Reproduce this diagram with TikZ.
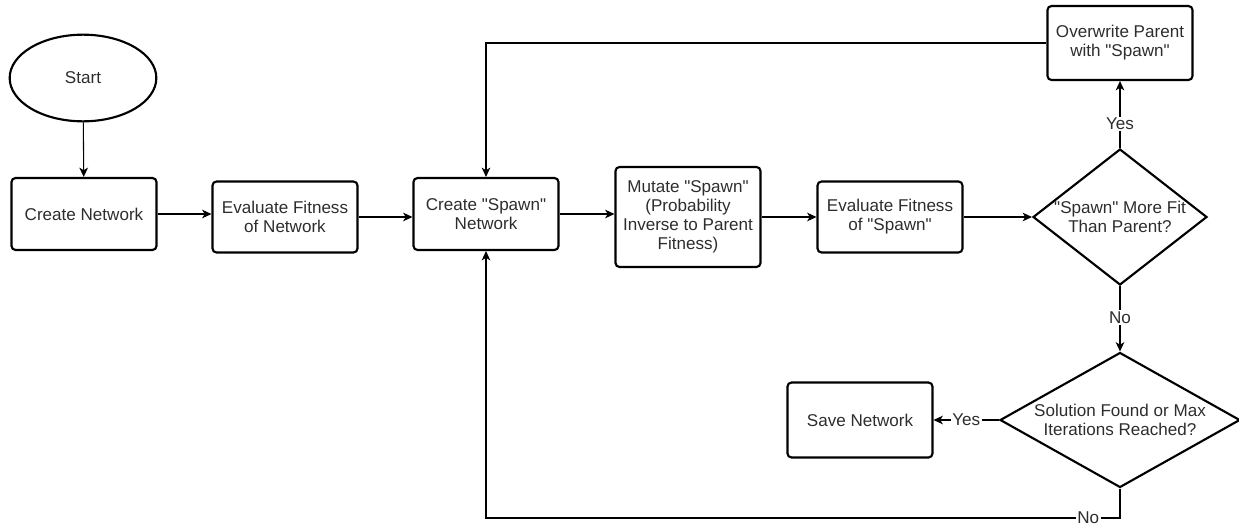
\documentclass[tikz,border=0pt]{standalone}
\usepackage{fontspec}
\setmainfont{Liberation Sans}
\usetikzlibrary{shapes.geometric,arrows.meta}
\definecolor{txt}{RGB}{45,45,45}
% straight double quote (not turned into a curly one)
\newcommand\sq{\textquotedbl}
\begin{document}
\begin{tikzpicture}[x=0.75pt,y=-0.75pt,
  every node/.style={font=\fontsize{12.8}{14.3}\selectfont, text=txt},
  box/.style={draw, line width=1.6pt, rounded corners=3pt, align=center,
    minimum width=108.75pt, minimum height=54pt, inner sep=2pt},
  dec/.style={draw, diamond, line width=1.6pt, inner sep=0pt},
  startnode/.style={draw, ellipse, line width=1.6pt, minimum width=110pt, minimum height=65pt},
  arr/.style={draw, line width=0.8pt, -{Stealth[length=7pt,width=6.5pt,inset=2pt]}},
  lbl/.style={fill=white, inner sep=1pt}
]
\useasboundingbox (0,0) rectangle (1239,525);

% process steps
\node[startnode] (start) at (83,78) {Start};
\node[box] (create) at (84,214) {Create Network};
\node[box, minimum height=53.25pt] (evalnet) at (285,217) {Evaluate Fitness\\of Network};
\node[box] (spawn) at (486,214) {Create \sq Spawn\sq\\Network};
\node[box, minimum height=75pt] (mutate) at (688,217) {Mutate \sq Spawn\sq\\(Probability\\Inverse to Parent\\Fitness)};
\node[box, minimum height=53.25pt] (evalspawn) at (890,217) {Evaluate Fitness\\of \sq Spawn\sq};
\node[box, minimum height=55.5pt] (overwrite) at (1120,43) {Overwrite Parent\\with \sq Spawn\sq};
\node[box, minimum height=56.25pt] (save) at (860,420) {Save Network};

% decisions
\node[dec, minimum width=130.5pt, minimum height=102pt,
  label={[align=center]center:{\sq Spawn\sq\ More Fit\\Than Parent?}}] (dec1) at (1120,217) {};
\node[dec, minimum width=180pt, minimum height=101.25pt,
  label={[align=center]center:{Solution Found or Max\\Iterations Reached?}}] (dec2) at (1120,420) {};

\coordinate (botR) at (1120,518);
\coordinate (botL) at (486,518);

% connectors
\draw[arr] (start) -- (create);
\draw[arr] (create.east) -- (evalnet.west |- create.east);
\draw[arr] (evalnet.east) -- (spawn.west |- evalnet.east);
\draw[arr] (spawn.east) -- (mutate.west |- spawn.east);
\draw[arr] (mutate) -- (evalspawn);
\draw[arr] (evalspawn) -- (dec1);
\draw[arr] (dec1.north) -- node[lbl, pos=0.36] {Yes} (overwrite.south);
\draw[arr] (overwrite.west) -| (spawn.north);
\draw[arr] (dec1.south) -- node[lbl, pos=0.48] {No} (dec2.north);
\draw[arr] (dec2.west) -- node[lbl] {Yes} (save.east);
\draw[arr] (dec2.south) -- (botR) -- node[lbl, pos=0.05] {No} (botL) -- (spawn.south);
\end{tikzpicture}
\end{document}
